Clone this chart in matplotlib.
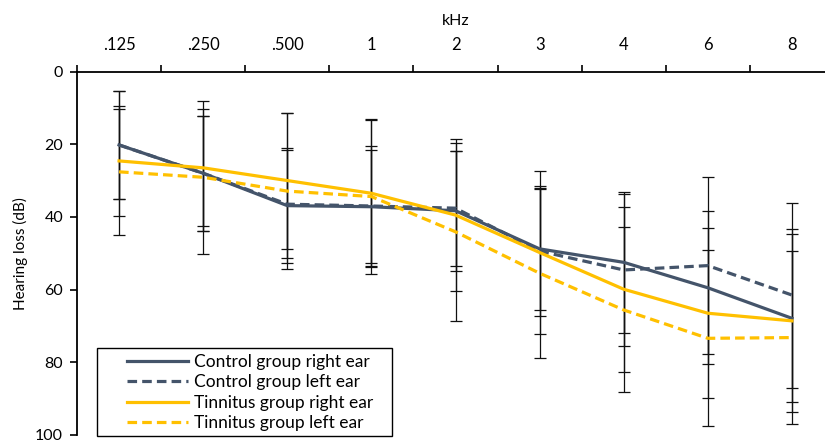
import matplotlib
matplotlib.use("Agg")
import matplotlib.pyplot as plt
from matplotlib.patches import Rectangle
import numpy as np

plt.rcParams['font.family'] = ['Lato', 'DejaVu Sans']

freqs = [".125", ".250", ".500", "1", "2", "3", "4", "6", "8"]

# mean hearing loss (dB)
control_right = [20.2, 28.0, 36.9, 37.2, 38.3, 48.8, 52.5, 59.5, 67.9]
control_left = [20.2, 28.0, 36.5, 37.0, 37.6, 49.4, 54.6, 53.4, 61.5]
tinnitus_right = [24.6, 26.5, 30.0, 33.5, 39.5, 49.8, 59.9, 66.5, 68.6]
tinnitus_left = [27.6, 29.1, 32.9, 34.4, 44.1, 55.5, 65.6, 73.4, 73.2]

# standard deviations
control_right_sd = [14.8, 15.8, 15.85, 15.6, 16.5, 16.8, 19.35, 21.05, 23.1]
control_left_sd = [14.8, 15.8, 14.9, 16.6, 15.8, 18.0, 20.85, 24.45, 25.45]
tinnitus_right_sd = [15.1, 16.1, 18.7, 20.2, 21.0, 22.35, 22.65, 23.4, 25.2]
tinnitus_left_sd = [17.4, 21.0, 21.5, 21.2, 24.5, 23.3, 22.7, 24.25, 23.9]

labels = ["Control group right ear", "Control group left ear",
          "Tinnitus group right ear", "Tinnitus group left ear"]

dark = "#44546A"
yellow = "#FFC000"
dash = (0, (3, 1.6))

fig = plt.figure(figsize=(8.25, 4.42), dpi=100)
ax = fig.add_axes([77/825, 7/442, (834-77)/825, (435-71.5)/442])

x = np.arange(len(freqs))
series = [
    (control_right, control_right_sd, dark, "-"),
    (control_left, control_left_sd, dark, dash),
    (tinnitus_right, tinnitus_right_sd, yellow, "-"),
    (tinnitus_left, tinnitus_left_sd, yellow, dash),
]

for (vals, sd, col, ls), lab in zip(series, labels):
    ax.errorbar(x, vals, yerr=sd, fmt='none', ecolor="#111111",
                elinewidth=0.9, capsize=4, capthick=0.9, zorder=2)
for (vals, sd, col, ls), lab in zip(series, labels):
    ax.plot(x, vals, color=col, linestyle=ls, linewidth=2.3, label=lab, zorder=3)

ax.set_xlim(-0.5, 8.5)
ax.set_ylim(100, 0)

ax.xaxis.tick_top()
ax.xaxis.set_label_position('top')
ax.set_xticks(np.arange(-0.5, 9.0, 1.0))
ax.set_xticklabels([])
ax.set_xticks(x, minor=True)
ax.set_xticklabels(freqs, minor=True, fontsize=12)
ax.tick_params(axis='x', which='major', direction='out', length=5, width=1.2)
ax.tick_params(axis='x', which='minor', length=0, pad=13)
ax.set_xlabel("kHz", fontsize=11.5, labelpad=9)

ax.set_yticks([0, 20, 40, 60, 80, 100])
ax.tick_params(axis='y', direction='out', length=5, width=1.2, labelsize=11.5, pad=5)
ax.set_ylabel("Hearing loss (dB)", fontsize=11, labelpad=5)

for s in ['bottom', 'right']:
    ax.spines[s].set_visible(False)
for s in ['top', 'left']:
    ax.spines[s].set_linewidth(1.3)

# legend without its own frame, then an Excel-like wide box around it
box = Rectangle((97/825, 6/442), 295/825, 88/442, transform=fig.transFigure,
                facecolor='white', edgecolor='black', linewidth=1.0,
                clip_on=False, zorder=5)
ax.add_patch(box)
leg = ax.legend(loc='upper left', bbox_to_anchor=(127/825, (442-354)/442),
                bbox_transform=fig.transFigure, fontsize=12.5, frameon=False,
                handlelength=3.5, handletextpad=0.35, labelspacing=0.25,
                borderpad=0, borderaxespad=0)
leg.set_zorder(6)

fig.savefig("out.png", dpi=100)
